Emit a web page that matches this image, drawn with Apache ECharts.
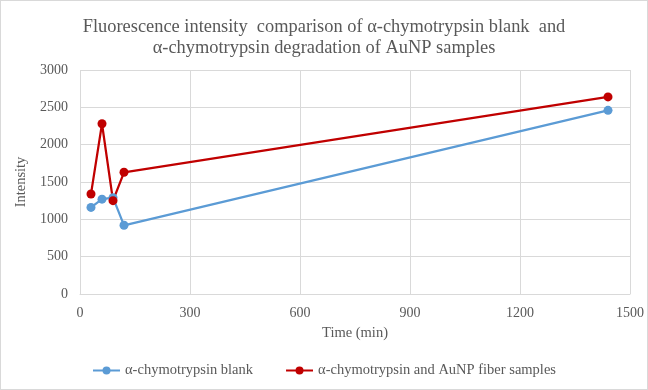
<!DOCTYPE html>
<html><head><meta charset="utf-8">
<script src="https://cdn.jsdelivr.net/npm/echarts@6/dist/echarts.min.js"></script>
<style>html,body{margin:0;padding:0;background:#fff}#c{width:648px;height:390px;box-sizing:border-box;border:1px solid #d9d9d9}</style>
</head><body><div id="c"></div>
<script>
const times = [30, 60, 90, 120, 1440];
const blankValues = [1160, 1270, 1290, 920, 2460];
const aunpValues = [1340, 2280, 1250, 1630, 2640];
const seriesNames = ['α-chymotrypsin blank', 'α-chymotrypsin and AuNP fiber samples'];
const titleText = 'Fluorescence intensity  comparison of α-chymotrypsin blank  and\nα-chymotrypsin degradation of AuNP samples';
const font = 'Liberation Serif, Times New Roman, serif';
const chart = echarts.init(document.getElementById('c'));
const toPairs = v => times.map((t, i) => [t, v[i]]);
chart.setOption({
  animation: false,
  textStyle: {fontFamily: font},
  title: {text: titleText, left: 'center', top: 11,
    textStyle: {fontFamily: font, fontSize: 18.4, fontWeight: 'normal', color: '#595959', lineHeight: 21}},
  grid: {left: 79, right: 17, top: 69, bottom: 95},
  xAxis: {type: 'value', min: 0, max: 1500, interval: 300,
    name: 'Time (min)', nameLocation: 'middle', nameGap: 32,
    nameTextStyle: {fontFamily: font, fontSize: 14.5, color: '#595959'},
    axisLine: {show: true, lineStyle: {color: '#d9d9d9'}}, axisTick: {show: false},
    splitLine: {show: true, lineStyle: {color: '#d9d9d9'}},
    axisLabel: {fontFamily: font, fontSize: 14, color: '#595959', margin: 12,
      formatter: v => String(v)}},
  yAxis: {type: 'value', min: 0, max: 3000, interval: 500,
    name: 'Intensity', nameLocation: 'middle', nameGap: 51,
    nameTextStyle: {fontFamily: font, fontSize: 14.5, color: '#595959'},
    axisLine: {show: false}, axisTick: {show: false},
    splitLine: {show: true, lineStyle: {color: '#d9d9d9'}},
    axisLabel: {fontFamily: font, fontSize: 14, color: '#595959', margin: 12,
      formatter: v => String(v)}},
  legend: {bottom: 6, left: 'center', itemGap: 32, itemWidth: 27, itemHeight: 10,
    textStyle: {fontFamily: font, fontSize: 14.5, color: '#595959'},
    data: seriesNames},
  series: [
    {name: seriesNames[0], type: 'line', data: toPairs(blankValues), symbol: 'circle', symbolSize: 9,
      lineStyle: {color: '#5B9BD5', width: 2.25}, itemStyle: {color: '#5B9BD5'}},
    {name: seriesNames[1], type: 'line', data: toPairs(aunpValues), symbol: 'circle', symbolSize: 9,
      lineStyle: {color: '#C00000', width: 2.25}, itemStyle: {color: '#C00000'}}
  ]
});
</script></body></html>
